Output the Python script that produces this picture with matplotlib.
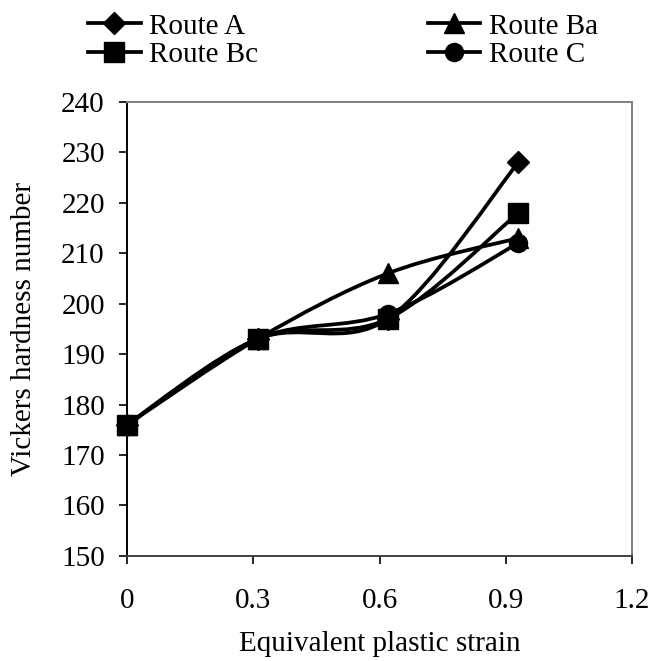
import numpy as np
import matplotlib.pyplot as plt
from matplotlib.path import Path
from matplotlib.patches import PathPatch
from matplotlib.lines import Line2D

plt.rcParams['font.family'] = ['Liberation Serif', 'DejaVu Serif']

# Hardness after each ECAP pass
strain = [0, 0.31, 0.62, 0.93]
route_a = [176, 193, 197, 228]
route_ba = [176, 193, 206, 213]
route_bc = [176, 193, 197, 218]
route_c = [176, 193, 198, 212]

routes = ['Route A', 'Route Ba', 'Route Bc', 'Route C']
markers = ['D', '^', 's', 'o']
msizes = [11, 14, 15, 13]
FS = 21


def smooth_path(xs, ys):
    # Catmull-Rom style bezier segments (spreadsheet "smoothed line")
    pts = np.column_stack([xs, ys]).astype(float)
    n = len(pts)
    verts = [pts[0]]
    codes = [Path.MOVETO]
    for i in range(n - 1):
        p0 = pts[max(i - 1, 0)]
        p1 = pts[i]
        p2 = pts[i + 1]
        p3 = pts[min(i + 2, n - 1)]
        verts += [p1 + (p2 - p0) / 6, p2 - (p3 - p1) / 6, p2]
        codes += [Path.CURVE4] * 3
    return Path(verts, codes)


fig = plt.figure(figsize=(6.55, 6.61), dpi=100)
ax = fig.add_axes([0.194, 0.159, 0.771, 0.687])

handles = []
for name, ys, mk, ms in zip(routes, [route_a, route_ba, route_bc, route_c], markers, msizes):
    ax.add_patch(PathPatch(smooth_path(strain, ys), facecolor='none',
                           edgecolor='black', lw=2.7, zorder=2))
    ax.plot(strain, ys, linestyle='none', marker=mk, markersize=ms,
            color='black', zorder=3, clip_on=False)
    handles.append(Line2D([], [], color='black', lw=2.7, marker=mk, markersize=ms))

ax.set_xlim(0, 1.2)
ax.set_ylim(150, 240)
ax.set_xticks([0, 0.3, 0.6, 0.9, 1.2])
ax.set_xticklabels(['0', '0.3', '0.6', '0.9', '1.2'])
ax.set_yticks(np.arange(150, 241, 10))

ax.spines['top'].set_color('#808080')
ax.spines['right'].set_color('#808080')
ax.spines['bottom'].set_color('#404040')
for s in ax.spines.values():
    s.set_linewidth(1.4)

ax.tick_params(axis='both', labelsize=FS, direction='out', length=6, width=1.2)
ax.tick_params(axis='x', pad=17)
ax.tick_params(axis='y', pad=10)

ax.set_xlabel('Equivalent plastic strain', fontsize=FS, labelpad=12)
ax.set_ylabel('Vickers hardness number', fontsize=FS, labelpad=17)

order = [0, 2, 1, 3]
fig.legend([handles[i] for i in order], [routes[i] for i in order],
           ncol=2, loc='upper left', bbox_to_anchor=(88 / 655, 0.98),
           frameon=False, fontsize=FS, handlelength=1.8, handletextpad=0.3,
           columnspacing=5.8, labelspacing=0.08, borderpad=0.0, borderaxespad=0.0)

fig.savefig('out.png', dpi=100)
